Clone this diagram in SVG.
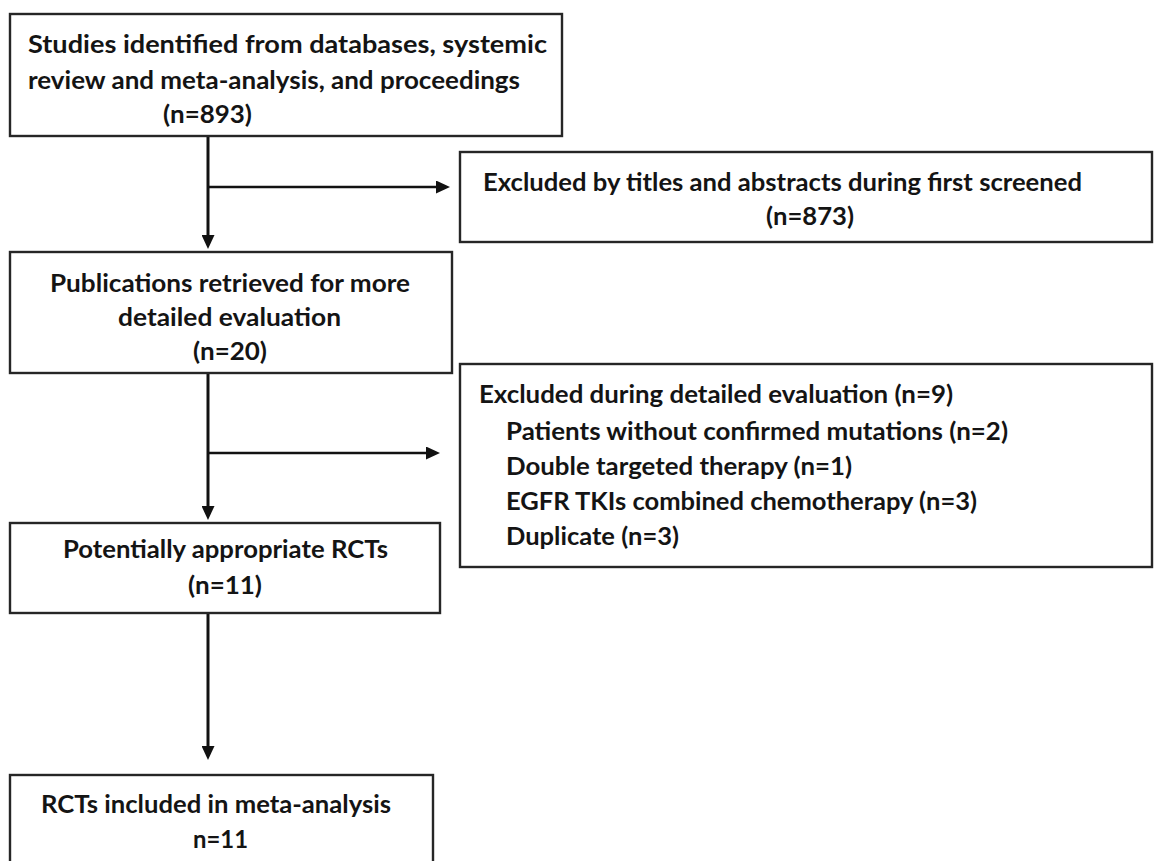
<svg xmlns="http://www.w3.org/2000/svg" width="1154" height="861" viewBox="0 0 1154 861">
  <style>
    .box { fill: #ffffff; stroke: #262626; stroke-width: 2.4; }
    .t { font-family: "Lato", "Liberation Sans", sans-serif; font-weight: bold; font-size: 25px; fill: #141414; }
    .c { stroke: #111111; fill: none; }
    .v { stroke-width: 3; }
    .h { stroke-width: 2.4; }
  </style>
  <defs>
    <marker id="ah" viewBox="0 0 14 13" refX="8" refY="6.5" markerWidth="14" markerHeight="13" markerUnits="userSpaceOnUse" orient="auto">
      <path d="M0,0 L14,6.5 L0,13 z" fill="#111111"/>
    </marker>
  </defs>
  <rect width="1154" height="861" fill="#ffffff"/>

  <g id="connectors">
    <path class="c v" d="M208,136 V243" marker-end="url(#ah)"/>
    <path class="c h" d="M208,187 H444" marker-end="url(#ah)"/>
    <path class="c v" d="M208,373 V514" marker-end="url(#ah)"/>
    <path class="c h" d="M208,453 H434" marker-end="url(#ah)"/>
    <path class="c v" d="M208,613 V754" marker-end="url(#ah)"/>
  </g>

  <g id="n1">
    <rect class="box" x="10" y="14" width="552" height="122"/>
    <text class="t" x="28" y="53" textLength="519" lengthAdjust="spacingAndGlyphs">Studies identified from databases, systemic</text>
    <text class="t" x="28" y="89" textLength="492" lengthAdjust="spacingAndGlyphs">review and meta-analysis, and proceedings</text>
    <text class="t" x="163" y="123" textLength="89" lengthAdjust="spacingAndGlyphs">(n=893)</text>
  </g>

  <g id="n2">
    <rect class="box" x="460" y="152" width="692" height="90"/>
    <text class="t" x="483" y="191" textLength="599" lengthAdjust="spacingAndGlyphs">Excluded by titles and abstracts during first screened</text>
    <text class="t" x="766" y="225" textLength="88" lengthAdjust="spacingAndGlyphs">(n=873)</text>
  </g>

  <g id="n3">
    <rect class="box" x="10" y="252" width="442" height="121"/>
    <text class="t" x="50" y="292" textLength="360" lengthAdjust="spacingAndGlyphs">Publications retrieved for more</text>
    <text class="t" x="118" y="326" textLength="223" lengthAdjust="spacingAndGlyphs">detailed evaluation</text>
    <text class="t" x="193" y="360" textLength="74" lengthAdjust="spacingAndGlyphs">(n=20)</text>
  </g>

  <g id="n4">
    <rect class="box" x="460" y="364" width="692" height="203"/>
    <text class="t" x="479" y="403" textLength="474" lengthAdjust="spacingAndGlyphs">Excluded during detailed evaluation (n=9)</text>
    <text class="t" x="506" y="440" textLength="502" lengthAdjust="spacingAndGlyphs">Patients without confirmed mutations (n=2)</text>
    <text class="t" x="506" y="475" textLength="346" lengthAdjust="spacingAndGlyphs">Double targeted therapy (n=1)</text>
    <text class="t" x="506" y="510" textLength="471" lengthAdjust="spacingAndGlyphs">EGFR TKIs combined chemotherapy (n=3)</text>
    <text class="t" x="506" y="545" textLength="173" lengthAdjust="spacingAndGlyphs">Duplicate (n=3)</text>
  </g>

  <g id="n5">
    <rect class="box" x="10" y="523" width="430" height="90"/>
    <text class="t" x="63" y="558" textLength="325" lengthAdjust="spacingAndGlyphs">Potentially appropriate RCTs</text>
    <text class="t" x="188" y="594" textLength="74" lengthAdjust="spacingAndGlyphs">(n=11)</text>
  </g>

  <g id="n6">
    <rect class="box" x="10" y="775" width="423" height="110"/>
    <text class="t" x="41" y="813" textLength="350" lengthAdjust="spacingAndGlyphs">RCTs included in meta-analysis</text>
    <text class="t" x="193" y="848" textLength="55" lengthAdjust="spacingAndGlyphs">n=11</text>
  </g>
</svg>
